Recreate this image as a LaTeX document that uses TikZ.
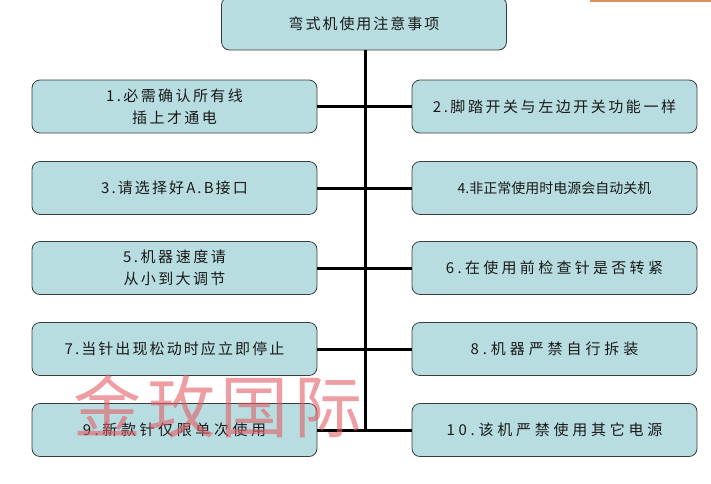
\documentclass[tikz,border=0pt]{standalone}
\usepackage{fontspec}
\usepackage{xcolor}
\newfontfamily\cjk{Noto Sans CJK SC}
\definecolor{boxfill}{RGB}{184,221,225}
\definecolor{boxline}{RGB}{60,60,60}
\definecolor{markred}{RGB}{226,92,100}
\definecolor{barorange}{RGB}{224,142,92}
\newcommand{\lsp}[1]{\addfontfeature{LetterSpace=#1}}

\begin{document}
\begin{tikzpicture}[x=1pt, y=-1pt,
        item/.style={draw=boxline, fill=boxfill, rounded corners=8pt, line width=0.8pt,
            minimum width=285pt, minimum height=53pt, inner sep=0pt, align=center,
            text=black!90, font=\cjk\fontsize{15}{22}\selectfont},
        link/.style={line width=3pt}]
            \useasboundingbox (0,0) rectangle (711,483);
            \fill[barorange] (590,0) rectangle (711,2);

            % title and the two columns
            \node[item] (title) at (364,23.5) {\lsp{13}弯式机使用注意事项};
            \node[item] (n1) at (174.5,106.5) {\lsp{16}1.必需确认所有线\\\lsp{16}插上才通电};
            \node[item] (n2) at (554.5,106.5) {\lsp{17}2.脚踏开关与左边开关功能一样};
            \node[item] (n3) at (174.5,188) {\lsp{14}3.请选择好A.B接口};
            \node[item] (n4) at (554.5,188) {\fontsize{14}{20}\selectfont 4.非正常使用时电源会自动关机};
            \node[item] (n5) at (174.5,268) {\lsp{17}5.机器速度请\\\lsp{16}从小到大调节};
            \node[item] (n6) at (554.5,268) {\lsp{22}6.在使用前检查针是否转紧};
            \node[item] (n7) at (174.5,349) {\lsp{14}7.当针出现松动时应立即停止};
            \node[item] (n8) at (554.5,349) {\lsp{26}8.机器严禁自行拆装};
            \node[item] (n9) at (174.5,430) {\lsp{24}9.新款针仅限单次使用};
            \node[item] (n10) at (554.5,430) {\lsp{25}10.该机严禁使用其它电源};

            % connectors
            \coordinate (trunk) at (title.south -| 365,0);
            \coordinate (foot) at (365,430);
            \draw[link] (trunk) -- (foot);
            \draw[link] (n1.east) -- (n2.west);
            \draw[link] (n3.east) -- (n4.west);
            \draw[link] (n5.east) -- (n6.west);
            \draw[link] (n7.east) -- (n8.west);
            \draw[link] (n9.east) -- (n10.west);

            \node[text=markred, opacity=0.6, font=\cjk\fontsize{68}{68}\selectfont] (mark) at (218,406) {\lsp{8}金玫国际};
        \end{tikzpicture}
\end{document}
